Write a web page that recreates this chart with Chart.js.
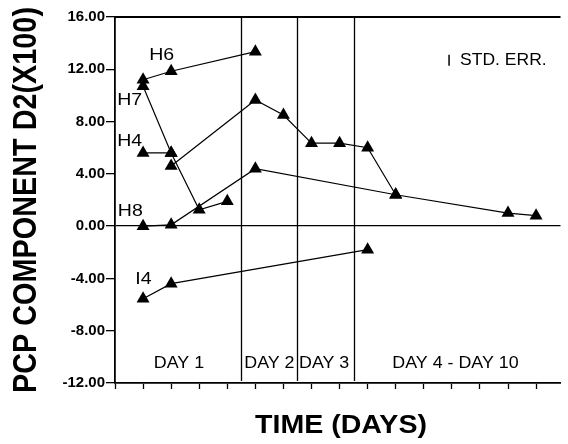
<!DOCTYPE html>
<html><head><meta charset="utf-8">
<script src="https://cdn.jsdelivr.net/npm/chart.js@4/dist/chart.umd.min.js"></script>
<style>html,body{margin:0;padding:0;background:#fff}</style></head>
<body>
<canvas id="c" width="568" height="444"></canvas>
<script>
// ---- data ----
const seriesNames = ['H6', 'H7', 'H4', 'H8', 'I4'];
const h6X = [1, 2, 5];
const h6Y = [11.2, 11.85, 13.35];
const h7X = [1, 2, 3, 4];
const h7Y = [10.7, 5.6, 1.25, 1.9];
const h4X = [1, 2, 2, 2, 5, 6, 7, 8, 9, 10];
const h4Y = [5.6, 5.6, null, 4.6, 9.65, 8.5, 6.35, 6.35, 6.0, 2.4];
const h8X = [1, 2, 5, 10, 14, 15];
const h8Y = [0, 0.1, 4.4, 2.4, 1.0, 0.8];
const i4X = [1, 2, 9];
const i4Y = [-5.55, -4.4, -1.8];
const yTickValues = [-12, -8, -4, 0, 4, 8, 12, 16];
const periodDividers = [4.5, 6.5, 8.5];
const periodLabels = ['DAY 1', 'DAY 2', 'DAY 3', 'DAY 4 - DAY 10'];
const yTitle = 'PCP COMPONENT D2(X100)';
const xTitle = 'TIME (DAYS)';
const legendText = 'STD. ERR.';

// ---- layout of annotations (data coordinates) ----
const seriesLabelPos = [[1.22, 13.05], [0.08, 9.65], [0.08, 6.5], [0.1, 1.1], [0.72, -4.1]];
const periodLabelPos = [[2.28, -10.5], [5.5, -10.5], [7.45, -10.5], [12.13, -10.5]];

const toPts = (xs, ys) => xs.map((x, i) => ({x: x, y: ys[i]}));
const mk = (label, xs, ys) => ({
  label: label, data: toPts(xs, ys),
  borderColor: '#000', backgroundColor: '#000', borderWidth: 1.2,
  pointStyle: 'triangle', pointRadius: 7.5, pointBorderWidth: 0,
  pointBackgroundColor: '#000', tension: 0, spanGaps: false, fill: false
});

const FONT = '"Liberation Sans", Arial, Helvetica, sans-serif';

function stretchText(ctx, txt, px, py, sx, align) {
  ctx.save();
  ctx.translate(px, py);
  ctx.scale(sx, 1);
  ctx.textAlign = align;
  ctx.fillText(txt, 0, 0);
  ctx.restore();
}

const deco = {
  id: 'deco',
  beforeDatasetsDraw(chart) {
    const {ctx, chartArea: a, scales: {x, y}} = chart;
    ctx.save();
    ctx.strokeStyle = '#000';
    ctx.lineWidth = 1.3;
    periodDividers.forEach(v => {
      const px = Math.round(x.getPixelForValue(v)) + 0.5;
      ctx.beginPath(); ctx.moveTo(px, a.top); ctx.lineTo(px, a.bottom - 2); ctx.stroke();
    });
    ctx.lineWidth = 1.8;
    ctx.beginPath(); ctx.moveTo(a.left, a.top); ctx.lineTo(a.right, a.top); ctx.stroke();
    ctx.restore();
  },
  afterDraw(chart) {
    const {ctx, chartArea: a, scales: {x, y}} = chart;
    ctx.save();
    ctx.fillStyle = '#000';
    ctx.strokeStyle = '#000';
    ctx.font = '17px ' + FONT;
    ctx.textBaseline = 'middle';
    seriesNames.forEach((n, i) => {
      const p = seriesLabelPos[i];
      stretchText(ctx, n, x.getPixelForValue(p[0]), y.getPixelForValue(p[1]), 1.15, 'left');
    });
    periodLabels.forEach((n, i) => {
      const p = periodLabelPos[i];
      stretchText(ctx, n, x.getPixelForValue(p[0]), y.getPixelForValue(p[1]), 1.05, 'center');
    });
    // legend: error bar symbol + text
    const lx = x.getPixelForValue(11.9), ly = y.getPixelForValue(12.66);
    ctx.lineWidth = 1.5;
    ctx.beginPath(); ctx.moveTo(lx, ly - 6); ctx.lineTo(lx, ly + 5); ctx.stroke();
    stretchText(ctx, legendText, lx + 11, ly, 1.03, 'left');
    // y title (rotated, condensed)
    ctx.font = 'bold 34px ' + FONT;
    let w = ctx.measureText(yTitle).width;
    ctx.save();
    ctx.translate(26, 200);
    ctx.rotate(-Math.PI / 2);
    ctx.scale(386 / w, 1);
    ctx.textAlign = 'center'; ctx.textBaseline = 'middle';
    ctx.fillText(yTitle, 0, 1);
    ctx.restore();
    // x title
    ctx.font = 'bold 26px ' + FONT;
    w = ctx.measureText(xTitle).width;
    ctx.save();
    ctx.translate(341, 426);
    ctx.scale(172 / w, 1);
    ctx.textAlign = 'center'; ctx.textBaseline = 'middle';
    ctx.fillText(xTitle, 0, 0);
    ctx.restore();
    ctx.restore();
  }
};

new Chart(document.getElementById('c'), {
  type: 'line',
  data: {
    datasets: [
      mk('H6', h6X, h6Y), mk('H7', h7X, h7Y), mk('H4', h4X, h4Y),
      mk('H8', h8X, h8Y), mk('I4', i4X, i4Y)
    ]
  },
  options: {
    responsive: false, animation: false, devicePixelRatio: 1,
    layout: {padding: {left: 0, top: 17, right: 0, bottom: 0}},
    plugins: {legend: {display: false}, tooltip: {enabled: false}, title: {display: false}},
    scales: {
      x: {
        type: 'linear', min: 0, max: 15.87,
        ticks: {display: false, stepSize: 1, includeBounds: false},
        grid: {drawOnChartArea: false, drawTicks: true, tickLength: 6, tickColor: '#000', tickWidth: 1.3},
        border: {display: true, color: '#000', width: 1.8},
        afterFit: s => { s.height = 61; }
      },
      y: {
        type: 'linear', min: -12, max: 16,
        afterBuildTicks: s => { s.ticks = yTickValues.map(v => ({value: v})); },
        ticks: {
          color: '#000', padding: 1,
          font: {family: FONT, size: 15, weight: 'bold'},
          callback: v => v.toFixed(2)
        },
        grid: {
          drawOnChartArea: true, drawTicks: true, tickLength: 9,
          tickColor: '#000', tickWidth: 1.3, lineWidth: 1.3,
          color: c => (c.tick && c.tick.value === 0) ? '#000' : 'rgba(0,0,0,0)'
        },
        border: {display: true, color: '#000', width: 1.8},
        afterFit: s => { s.width = 115; }
      }
    }
  },
  plugins: [deco]
});
</script>
</body></html>
